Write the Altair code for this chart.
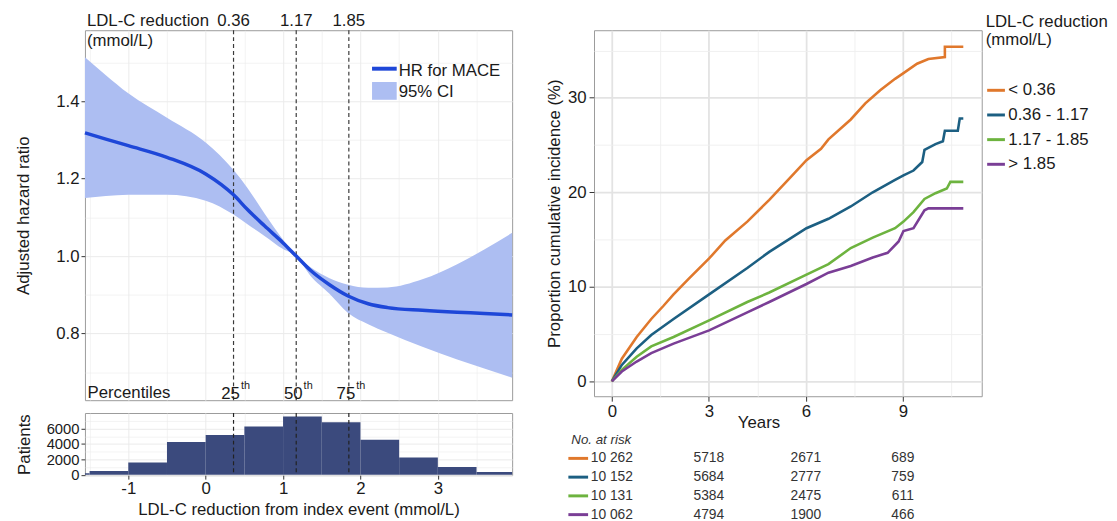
import altair as alt
import pandas as pd

FONT = "Liberation Sans"
TXT = "#1a1a1a"

# ---------------- Left panel: spline of HR vs LDL-C reduction ----------------
ldl_x = [-1.56, -1.29, -1.0, -0.5, 0.0, 0.36, 0.54, 0.76, 1.0, 1.17, 1.35, 1.6, 1.84, 2.1, 2.35, 2.8, 3.25, 3.6, 3.96]
hr_est = [1.318, 1.302, 1.285, 1.255, 1.212, 1.158, 1.12, 1.078, 1.034, 1.0, 0.964, 0.926, 0.897, 0.877, 0.867, 0.86, 0.855, 0.852, 0.848]
hr_low = [1.15, 1.155, 1.158, 1.158, 1.143, 1.107, 1.082, 1.052, 1.018, 1.0, 0.95, 0.903, 0.853, 0.824, 0.802, 0.766, 0.733, 0.71, 0.686]
hr_high = [1.513, 1.467, 1.42, 1.357, 1.293, 1.222, 1.176, 1.11, 1.042, 1.0, 0.972, 0.943, 0.926, 0.918, 0.919, 0.94, 0.979, 1.017, 1.06]

# histogram of patients
hist_lo = [-2.0, -1.5, -1.0, -0.5, 0.0, 0.5, 1.0, 1.5, 2.0, 2.5, 3.0, 3.5]
hist_hi = [-1.5, -1.0, -0.5, 0.0, 0.5, 1.0, 1.5, 2.0, 2.5, 3.0, 3.5, 4.0]
patients = [200, 500, 1600, 4250, 5150, 6250, 7550, 6800, 4550, 2250, 1000, 380]

cut_values = [0.36, 1.17, 1.85]
cut_labels = ["0.36", "1.17", "1.85"]
percentiles = ["25", "50", "75"]

left_x_ticks = [-1.5, -1, -0.5, 0, 0.5, 1, 1.5, 2, 2.5, 3, 3.5]
left_y_ticks = [0.7, 0.8, 0.9, 1.0, 1.1, 1.2, 1.3, 1.4, 1.5]
hist_y_ticks = [0, 1000, 2000, 3000, 4000, 5000, 6000, 7000]

# ---------------- Right panel: cumulative incidence ----------------
groups = ["< 0.36", "0.36 - 1.17", "1.17 - 1.85", "> 1.85"]
colors = ["#E0782C", "#1C5F82", "#6DB33F", "#7A3E96"]

t_g1 = [0, 0.31, 0.77, 1.22, 1.6, 1.91, 2.36, 3.01, 3.51, 4.19, 4.87, 5.56, 6.02, 6.47, 6.70, 7.39, 7.84, 8.30, 8.76, 9.02, 9.44, 9.79, 10.30, 10.30, 10.87]
y_g1 = [0, 2.4, 4.7, 6.6, 8.0, 9.2, 10.8, 13.0, 14.9, 16.9, 19.2, 21.7, 23.4, 24.6, 25.6, 27.7, 29.4, 30.8, 32.0, 32.6, 33.6, 34.1, 34.3, 35.4, 35.4]
t_g2 = [0, 0.31, 0.77, 1.22, 1.91, 3.01, 4.19, 4.87, 6.02, 6.70, 7.39, 8.07, 8.76, 9.02, 9.33, 9.60, 9.67, 10.01, 10.24, 10.30, 10.70, 10.76, 10.87]
y_g2 = [0, 1.74, 3.5, 4.9, 6.6, 9.2, 12.0, 13.7, 16.2, 17.2, 18.5, 20.0, 21.3, 21.8, 22.3, 23.2, 24.5, 25.1, 25.4, 26.5, 26.5, 27.8, 27.8]
t_g3 = [0, 0.31, 0.77, 1.22, 1.91, 3.01, 4.19, 4.87, 6.02, 6.70, 7.39, 8.07, 8.76, 9.02, 9.33, 9.67, 10.01, 10.36, 10.47, 10.87]
y_g3 = [0, 1.22, 2.6, 3.7, 4.7, 6.45, 8.4, 9.4, 11.3, 12.4, 14.1, 15.2, 16.2, 16.9, 17.9, 19.3, 19.9, 20.4, 21.1, 21.1]
t_g4 = [0, 0.31, 0.77, 1.22, 1.91, 3.01, 4.19, 4.87, 6.02, 6.70, 7.39, 8.07, 8.53, 8.87, 9.02, 9.33, 9.67, 9.79, 10.87]
y_g4 = [0, 1.05, 2.1, 3.0, 4.0, 5.4, 7.3, 8.4, 10.3, 11.5, 12.2, 13.1, 13.6, 14.8, 15.9, 16.2, 18.1, 18.3, 18.3]

right_x_ticks = [0, 1.5, 3, 4.5, 6, 7.5, 9, 10.5]
right_y_ticks = [0, 5, 10, 15, 20, 25, 30, 35]

risk_times = [0, 3, 6, 9]
risk_g1 = ["10 262", "5718", "2671", "689"]
risk_g2 = ["10 152", "5684", "2777", "759"]
risk_g3 = ["10 131", "5384", "2475", "611"]
risk_g4 = ["10 062", "4794", "1900", "466"]

# ---------------- helpers ----------------
def cond(test, a, b):
    return {"condition": {"test": test, "value": a}, "value": b}


def label(text, x, y, size=17, align="left", **kw):
    return alt.Chart(pd.DataFrame({"t": [text]})).mark_text(
        align=align, baseline="middle", fontSize=size, color=TXT, **kw
    ).encode(x=alt.value(x), y=alt.value(y), text="t:N")


HR_BLUE = "#1E47D8"
CI_FILL = "#ADBEF2"
GRID = "#EBEBEB"

# ---------------- Left main chart ----------------
curve = pd.DataFrame({"v": ldl_x, "hr": hr_est, "lo": hr_low, "hi": hr_high})
cuts = pd.DataFrame({"c": cut_values, "lab": cut_labels, "pct": percentiles})

xs = alt.Scale(domain=[-1.56, 3.96], nice=False, zero=False)
ys = alt.Scale(domain=[0.628, 1.583], nice=False, zero=False)

MAJ_LX = "abs(datum.value - round(datum.value)) < 0.001"
MAJ_LY = "abs(datum.value * 5 - round(datum.value * 5)) < 0.001"

left_x_axis = alt.Axis(values=left_x_ticks, labels=False, ticks=False, domain=False, title=None,
                       gridColor=GRID, gridWidth=cond(MAJ_LX, 1.0, 0.6))
left_y_axis = alt.Axis(values=left_y_ticks, labelExpr=MAJ_LY + " ? format(datum.value, '.1f') : ''",
                       tickOpacity=cond(MAJ_LY, 1, 0), tickSize=4, labelPadding=2,
                       title="Adjusted hazard ratio", titlePadding=23.5, labelOverlap=False,
                       gridColor=GRID, gridWidth=cond(MAJ_LY, 1.0, 0.6))

band = alt.Chart(curve).mark_area(color=CI_FILL, opacity=1, interpolate="monotone").encode(
    x=alt.X("v:Q", scale=xs, axis=left_x_axis),
    y=alt.Y("lo:Q", scale=ys, axis=left_y_axis),
    y2="hi:Q",
)
hr_line = alt.Chart(curve).mark_line(color=HR_BLUE, strokeWidth=3.5, interpolate="monotone").encode(
    x=alt.X("v:Q", scale=xs), y=alt.Y("hr:Q", scale=ys)
)
cut_rules = alt.Chart(cuts).mark_rule(color="#3a3a3a", strokeDash=[4, 3], strokeWidth=1.2).encode(
    x=alt.X("c:Q", scale=xs)
)
cut_top = alt.Chart(cuts).mark_text(fontSize=17, color=TXT, baseline="middle").encode(
    x=alt.X("c:Q", scale=xs), y=alt.value(-9), text="lab:N"
)
pct_num = alt.Chart(cuts).mark_text(fontSize=17, color=TXT, align="right", dx=6.5, baseline="middle").encode(
    x=alt.X("c:Q", scale=xs), y=alt.value(369), text="pct:N"
)
pct_th = alt.Chart(cuts).mark_text(fontSize=11, color=TXT, align="left", dx=7.5, baseline="middle", text="th").encode(
    x=alt.X("c:Q", scale=xs), y=alt.value(361)
)
leg_line = alt.Chart(pd.DataFrame({"k": [1]})).mark_rule(color=HR_BLUE, strokeWidth=4).encode(
    x=alt.value(291), x2=alt.value(316), y=alt.value(39)
)
leg_rect = alt.Chart(pd.DataFrame({"k": [1]})).mark_rect(color=CI_FILL).encode(
    x=alt.value(291), x2=alt.value(316), y=alt.value(52.5), y2=alt.value(70.5)
)

left_main = alt.layer(
    band, cut_rules, hr_line, cut_top, pct_num, pct_th, leg_line, leg_rect,
    label("HR for MACE", 318, 41.5), label("95% CI", 318, 62.5),
    label("LDL-C reduction", 2, -9), label("(mmol/L)", 2, 11),
    label("Percentiles", 2.6, 368),
).properties(width=433, height=375)

# ---------------- Histogram ----------------
hist_df = pd.DataFrame({"lo": hist_lo, "hi": hist_hi, "n": patients})
hys = alt.Scale(domain=[-40, 8000], nice=False, zero=False)
MAJ_HY = "datum.value % 2000 === 0"
hist_x_axis = alt.Axis(values=left_x_ticks, labelExpr=MAJ_LX + " ? '' + datum.value : ''",
                       tickOpacity=cond(MAJ_LX, 1, 0), tickSize=4, labelPadding=2, labelOverlap=False,
                       labelFlush=False, title="LDL-C reduction from index event (mmol/L)", titlePadding=5,
                       gridColor=GRID, gridWidth=cond(MAJ_LX, 1.0, 0.6))
hist_y_axis = alt.Axis(values=hist_y_ticks, labelExpr=MAJ_HY + " ? '' + datum.value : ''",
                       tickOpacity=cond(MAJ_HY, 1, 0), tickSize=4, labelPadding=2, labelOverlap=False,
                       labelFontSize=15, title="Patients", titlePadding=13,
                       gridColor=GRID, gridWidth=cond(MAJ_HY, 1.0, 0.6))
bars = alt.Chart(hist_df).mark_rect(color="#3B4A7D", clip=True).encode(
    x=alt.X("lo:Q", scale=xs, axis=hist_x_axis), x2="hi:Q",
    y=alt.Y("n:Q", scale=hys, axis=hist_y_axis), y2=alt.datum(0),
)
hist_rules = alt.Chart(cuts).mark_rule(color="#222", strokeDash=[4, 3], strokeWidth=1.2).encode(
    x=alt.X("c:Q", scale=xs)
)
hist = alt.layer(bars, hist_rules).properties(width=433, height=63)

left_col = alt.vconcat(left_main, hist, spacing=8).resolve_scale(x="independent", y="independent")

# ---------------- Right main chart ----------------
rows = []
for g, ts, yv in zip(groups, [t_g1, t_g2, t_g3, t_g4], [y_g1, y_g2, y_g3, y_g4]):
    for i, (t, y) in enumerate(zip(ts, yv)):
        rows.append({"group": g, "t": t, "pct": y, "i": i})
km = pd.DataFrame(rows)

txs = alt.Scale(domain=[-0.55, 11.44], nice=False, zero=False)
tys = alt.Scale(domain=[-1.57, 37.14], nice=False, zero=False)
cscale = alt.Scale(domain=groups, range=colors)
MAJ_RX = "datum.value % 3 === 0"
MAJ_RY = "datum.value % 10 === 0"
RGRID_MAJ = "#E3E3E3"

right_x_axis = alt.Axis(values=right_x_ticks, labelExpr=MAJ_RX + " ? '' + datum.value : ''",
                        tickOpacity=cond(MAJ_RX, 1, 0), tickSize=5, labelPadding=3, labelOverlap=False,
                        labelFlush=False, title="Years", titleX=166.7, titleY=19, titleAlign="center",
                        gridColor=cond(MAJ_RX, RGRID_MAJ, "#EEEEEE"), gridWidth=cond(MAJ_RX, 1.8, 0.9))
right_y_axis = alt.Axis(values=right_y_ticks, labelExpr=MAJ_RY + " ? '' + datum.value : ''",
                        tickOpacity=cond(MAJ_RY, 1, 0), tickSize=5, labelPadding=3, labelOverlap=False,
                        title="Proportion cumulative incidence (%)", titlePadding=4,
                        gridColor=cond(MAJ_RY, RGRID_MAJ, "#EEEEEE"), gridWidth=cond(MAJ_RY, 1.8, 0.9))

km_lines = alt.Chart(km).mark_line(strokeWidth=2.6, interpolate="linear").encode(
    x=alt.X("t:Q", scale=txs, axis=right_x_axis),
    y=alt.Y("pct:Q", scale=tys, axis=right_y_axis),
    color=alt.Color("group:N", scale=cscale, legend=alt.Legend(
        title=["LDL-C reduction", "(mmol/L)"], orient="none", legendX=397, legendY=-16.6,
        symbolType="stroke", symbolSize=324, symbolStrokeWidth=3, labelFontSize=17, titleFontSize=17,
        titleFontWeight="normal", titleLineHeight=19, titlePadding=31, rowPadding=6, labelOffset=2,
        padding=0, labelColor=TXT, titleColor=TXT)),
    order=alt.Order("i:Q"),
)
right_main = km_lines.properties(width=393, height=371)

# ---------------- Number at risk table ----------------
row_domain = ["No. at risk"] + groups
risk_rows = []
for g, vals in zip(groups, [risk_g1, risk_g2, risk_g3, risk_g4]):
    for t, v in zip(risk_times, vals):
        risk_rows.append({"row": g, "t": t, "lab": v})
risk_df = pd.DataFrame(risk_rows)
seg_df = pd.DataFrame({"row": groups})
hdr_df = pd.DataFrame({"row": ["No. at risk"]})

ty = alt.Scale(type="point", domain=row_domain, padding=0.21)
risk_nums = alt.Chart(risk_df).mark_text(fontSize=14, color="#333333").encode(
    x=alt.X("t:Q", scale=txs, axis=None), y=alt.Y("row:N", scale=ty, axis=None), text="lab:N"
)
risk_segs = alt.Chart(seg_df).mark_rule(strokeWidth=3).encode(
    x=alt.value(-26), x2=alt.value(-6), y=alt.Y("row:N", scale=ty, axis=None),
    color=alt.Color("row:N", scale=cscale, legend=None),
)
risk_hdr = alt.Chart(hdr_df).mark_text(fontSize=13.5, fontStyle="italic", align="left", color="#333333").encode(
    x=alt.value(-23), y=alt.Y("row:N", scale=ty, axis=None), text="row:N"
)
table = alt.layer(risk_segs, risk_nums, risk_hdr).properties(
    width=393, height=84, view=alt.ViewBackground(stroke="transparent")
)

right_col = alt.vconcat(right_main, table, spacing=0).resolve_scale(
    x="independent", y="independent", color="independent"
)

chart = alt.hconcat(left_col, right_col, spacing=25).resolve_scale(
    x="independent", y="independent", color="independent"
).properties(
    padding={"left": 6, "top": 0, "right": 0, "bottom": 0}
).configure(font=FONT).configure_axis(
    labelFontSize=17, titleFontSize=17, labelColor=TXT, titleColor=TXT, titleFontWeight="normal",
    tickColor="#333333", domain=False
).configure_view(stroke="#9A9A9A", strokeWidth=1)

chart.save("out.html", embed_options={"renderer": "svg", "actions": False})
